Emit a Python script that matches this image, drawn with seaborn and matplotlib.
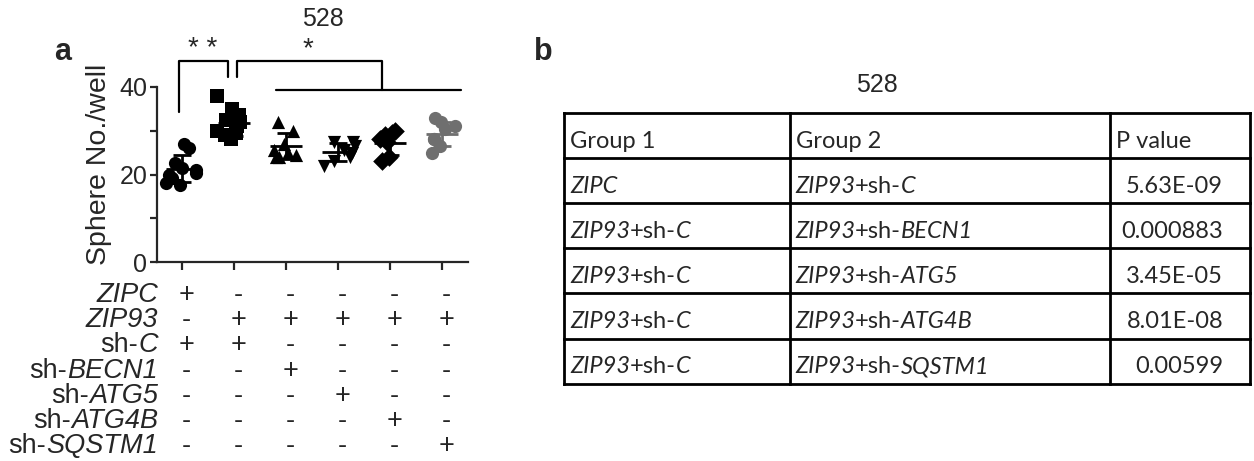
#%% Package Imports

import pandas as pd
import numpy as np
import matplotlib.pyplot as plt
import matplotlib.transforms as mtransforms
import seaborn as sns

#%% Data

groups = ['ZIPC', 'ZIP93+sh-C', 'ZIP93+sh-BECN1', 'ZIP93+sh-ATG5',
          'ZIP93+sh-ATG4B', 'ZIP93+sh-SQSTM1']

zipc = [27, 26, 22.6, 21.4, 21, 20.3, 19.9, 19.2, 18.1, 17.6]
zip93_shc = [38, 35, 33.5, 32.5, 32, 31, 30, 29.5, 29, 28]
zip93_becn1 = [32, 30, 27, 25.5, 25, 24.5, 24, 24]
zip93_atg5 = [27.5, 27.5, 26.5, 25.5, 25, 24, 23, 22]
zip93_atg4b = [30, 29.5, 29, 28, 27.5, 24, 23]
zip93_sqstm1 = [33, 32, 31, 30.5, 28, 28, 26.5, 25]

markers = ['o', 's', '^', 'v', 'D', 'o']
colors = ['black', 'black', 'black', 'black', 'black', '#6f6f6f']

# condition rows under the x axis
row_labels = ['*ZIPC*', '*ZIP93*', 'sh-*C*', 'sh-*BECN1*', 'sh-*ATG5*',
              'sh-*ATG4B*', 'sh-*SQSTM1*']
row_signs = ['+-----', '-+++++', '++----', '--+---', '---+--', '----+-',
             '-----+']

# p value table
tab_header = ['Group 1', 'Group 2', 'P value']
tab_group1 = ['*ZIPC*', '*ZIP93*+sh-*C*', '*ZIP93*+sh-*C*', '*ZIP93*+sh-*C*',
              '*ZIP93*+sh-*C*']
tab_group2 = ['*ZIP93*+sh-*C*', '*ZIP93*+sh-*BECN1*', '*ZIP93*+sh-*ATG5*',
              '*ZIP93*+sh-*ATG4B*', '*ZIP93*+sh-*SQSTM1*']
tab_pvalue = ['5.63E-09', '0.000883', '3.45E-05', '8.01E-08', '0.00599']

#%% Build long table

values = [zipc, zip93_shc, zip93_becn1, zip93_atg5, zip93_atg4b, zip93_sqstm1]
df = pd.DataFrame({
    'group': np.repeat(groups, [len(v) for v in values]),
    'value': np.concatenate(values)})

stats = df.groupby('group', sort=False)['value'].agg(['mean', 'std'])

#%% Style

sns.set_style('ticks')
plt.rcParams['font.family'] = ['Liberation Sans', 'DejaVu Sans']
plt.rcParams['axes.linewidth'] = 1.6

W, H = 1254, 461
fig = plt.figure(figsize=(W / 100, H / 100), dpi=100)

# overlay in pixel units for labels and the table
ov = fig.add_axes([0, 0, 1, 1])
ov.set_xlim(0, W)
ov.set_ylim(H, 0)
ov.axis('off')

ax = fig.add_axes([157 / W, (H - 262) / H, 311 / W, 175 / H])


def rich_text(axis, x, y, s, ha='left', transform=None, **kw):
    # *...* marks italic parts; segments are chained one after another
    segs = [(t, i % 2 == 1) for i, t in enumerate(s.split('*')) if t]
    if transform is None:
        transform = axis.transData
    if ha == 'right':
        segs = segs[::-1]
    prev = None
    for t, it in segs:
        style = 'italic' if it else 'normal'
        if prev is None:
            prev = axis.text(x, y, t, ha=ha, va='baseline', style=style,
                             transform=transform, **kw)
        else:
            xy = (0, 0) if ha == 'right' else (1, 0)
            prev = axis.annotate(t, xy=xy, xycoords=prev, ha=ha, va='bottom',
                                 style=style, **kw)
    return prev


#%% Panel a: scatter with mean +/- SD

np.random.seed(3)
for g, m, c in zip(groups, markers, colors):
    sns.stripplot(data=df[df['group'] == g], x='group', y='value',
                  order=groups, marker=m, color=c, size=9.5, linewidth=0,
                  jitter=0.34, ax=ax)

for i, g in enumerate(groups):
    mu, sd = stats.loc[g, 'mean'], stats.loc[g, 'std']
    ax.hlines(mu, i - 0.3, i + 0.3, color=colors[i], lw=2, zorder=5)
    ax.errorbar(i, mu, yerr=sd, color=colors[i], lw=2, capsize=6.5,
                capthick=2, zorder=5)

ax.set_xlim(-0.48, 5.5)
ax.set_ylim(0, 40)
ax.set_yticks([0, 20, 40])
ax.set_yticks([10, 30], minor=True)
ax.set_xticks(range(len(groups)))
ax.set_xticklabels([])
ax.set_xlabel('')
ax.set_ylabel('Sphere No./well', fontsize=20.5)
ax.yaxis.set_label_coords(-0.145, 0.56)
ax.tick_params(axis='y', which='both', length=5, width=1.6, labelsize=18,
               pad=2)
ax.tick_params(axis='x', length=6, width=1.6)
sns.despine(ax=ax)

# significance brackets
kw = dict(color='black', lw=1.6, clip_on=False)
ax.plot([-0.05, -0.05, 0.88, 0.88], [34.3, 45.9, 45.9, 42.2], **kw)
ax.plot([1.06, 1.06, 3.85, 3.85], [42.2, 45.9, 45.9, 39.2], **kw)
ax.plot([1.8, 5.37], [39.2, 39.2], **kw)
ax.text(0.4, 45.6, '* *', ha='center', va='bottom', fontsize=20)
ax.text(2.43, 45.6, '*', ha='center', va='bottom', fontsize=20)

# condition grid under the axis
blend = mtransforms.blended_transform_factory(ax.transData, ov.transData)
for r, (lab, signs) in enumerate(zip(row_labels, row_signs)):
    yb = 302 + 25.17 * r
    rich_text(ov, 158, yb, lab, ha='right', fontsize=19.5)
    for i, s in enumerate(signs):
        ov.text(i + 0.08, yb, s, ha='center', va='baseline', fontsize=19.5,
                transform=blend)

ov.text(323, 19, '528', ha='center', va='center', fontsize=18)
ov.text(63, 52, 'a', ha='center', va='center', fontsize=22,
        fontweight='bold')

#%% Panel b: p value table

ov.text(543, 52, 'b', ha='center', va='center', fontsize=22,
        fontweight='bold')
ov.text(877, 85, '528', ha='center', va='center', fontsize=18)

col_x = [564, 790, 1110, 1250]
row_h = 45.1
top = 113
n_rows = len(tab_pvalue) + 1
for k in range(n_rows + 1):
    ov.plot([col_x[0], col_x[-1]], [top + k * row_h] * 2, color='black',
            lw=2, solid_capstyle='projecting')
for x in col_x:
    ov.plot([x, x], [top, top + n_rows * row_h], color='black', lw=2,
            solid_capstyle='projecting')

tkw = dict(fontsize=17, family=['Lato', 'DejaVu Sans'])
for j, h in enumerate(tab_header):
    ov.text(col_x[j] + 6, top + 34.5, h, ha='left', va='baseline', **tkw)
for r in range(len(tab_pvalue)):
    yb = top + (r + 1) * row_h + 34.5
    rich_text(ov, col_x[0] + 6, yb, tab_group1[r], **tkw)
    rich_text(ov, col_x[1] + 5, yb, tab_group2[r], **tkw)
    ov.text(1223, yb, tab_pvalue[r], ha='right', va='baseline', **tkw)

fig.savefig('out.png', dpi=100)
